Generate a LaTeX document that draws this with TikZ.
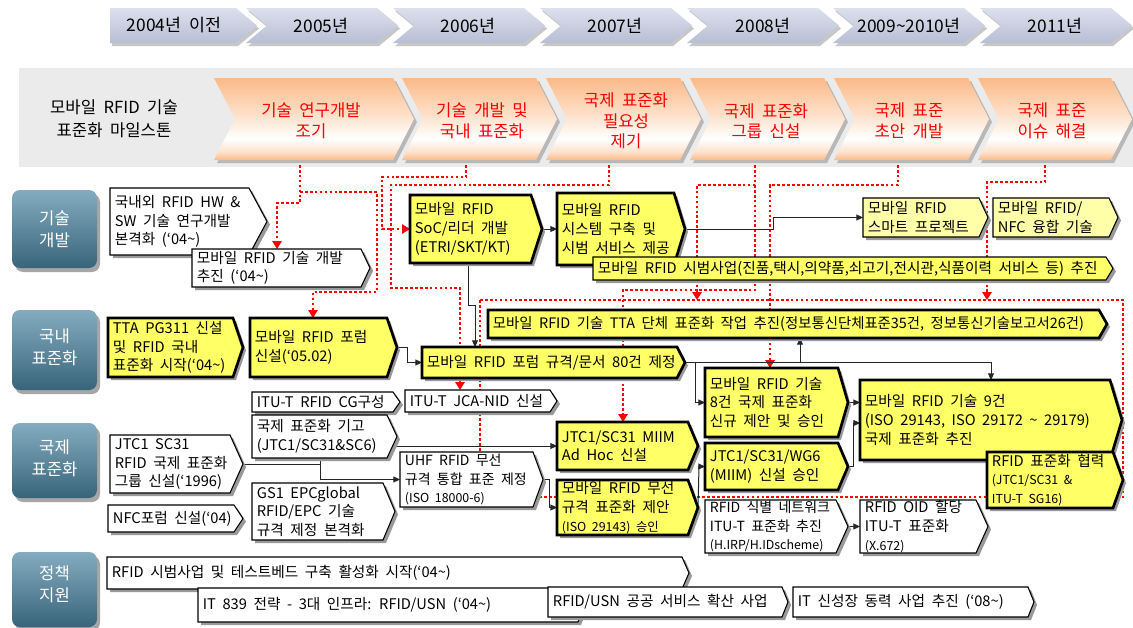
\documentclass[tikz,border=0pt]{standalone}
\usepackage{fontspec}
\setmainfont[WordSpace=2]{Noto Sans CJK KR}
\usetikzlibrary{arrows.meta,calc}
\definecolor{yel}{RGB}{255,255,102}
\definecolor{ypale}{RGB}{255,255,170}
\definecolor{peach}{RGB}{250,186,136}
\definecolor{peachl}{RGB}{253,226,204}
\definecolor{yrT}{RGB}{220,223,236}
\definecolor{yrB}{RGB}{184,190,212}
\definecolor{hdT}{RGB}{132,172,192}
\definecolor{hdB}{RGB}{56,100,122}
\definecolor{band}{RGB}{235,235,235}
\definecolor{otxt}{RGB}{255,0,0}
\pgfdeclareverticalshading{orsh}{100bp}{color(0bp)=(peach); color(25bp)=(peach); color(30bp)=(peachl); color(38bp)=(white); color(52bp)=(peachl); color(75bp)=(peach); color(100bp)=(peach)}
\pgfdeclarelayer{back}
\pgfdeclarelayer{lines}
\pgfsetlayers{back,lines,main}
\newcommand\fbx{\fontsize{11pt}{14pt}\selectfont}
\newcommand\fbxn{\fontsize{10.5pt}{14pt}\selectfont}
\newcommand\fbxb{\fontsize{10.8pt}{14pt}\selectfont}
\newcommand\fsml{\fontsize{9.3pt}{13pt}\selectfont}
\newcommand\fyear{\fontsize{13pt}{15pt}\selectfont}
\newcommand\forg{\fontsize{12.5pt}{15.5pt}\selectfont}
\newcommand\fmile{\fontsize{12.5pt}{17pt}\selectfont}
\newcommand\fhead{\fontsize{12.5pt}{16.5pt}\selectfont}
\newcommand\pentp[5]{({#1},{#2}) -- ({#3-#5},{#2}) -- ({#3},{(#2+#4)/2}) -- ({#3-#5},{#4}) -- ({#1},{#4}) -- cycle}
\newcommand\chevp[5]{({#1},{#2}) -- ({#3-#5},{#2}) -- ({#3},{(#2+#4)/2}) -- ({#3-#5},{#4}) -- ({#1},{#4}) -- ({#1+#5},{(#2+#4)/2}) -- cycle}
\tikzset{
 shad/.style={fill=black!40},
 wb/.style={fill=white,draw=black,line width=0.8pt},
 yb/.style={fill=yel,draw=black,line width=2pt},
 yt/.style={fill=yel,draw=black,line width=0.8pt},
 pb/.style={fill=ypale,draw=black,line width=0.8pt},
 reddot/.style={draw=red,line width=2pt,dash pattern=on 2pt off 1.7pt},
 rarr/.style={-{Triangle[length=6pt,width=7pt]}},
 blk/.style={draw=black!85,line width=0.75pt,-{Triangle[length=5pt,width=4.5pt]}},
}
\newcommand\bx[9]{%
 \node[inner sep=0pt,outer sep=0pt,minimum width={(#4-#2)*0.75pt},minimum height={(#5-#3)*0.75pt},anchor=north west] (#1) at ({#2},{#3}) {};
 \fill[shad,shift={(3,3)}] \pentp{#2}{#3}{#4}{#5}{#6};
 \path[#7] \pentp{#2}{#3}{#4}{#5}{#6};
 \node[anchor=west,align=left,inner sep=0pt,font=#8] (#1t) at ([xshift=3.5pt]#1.west) {#9};}
\newcommand\yc[5]{%
 \fill[black!22,shift={(2,3)}] \chevp{#2}{8}{#3}{43}{21};
 \shade[top color=yrT,bottom color=yrB] \chevp{#2}{8}{#3}{43}{21};
 \node[font=\fyear] (#1) at (#4,25.5) {#5};}
\newcommand\oc[5]{%
 \node[inner sep=0pt,outer sep=0pt,minimum width={(#3-#2)*0.75pt},minimum height={82*0.75pt},anchor=north west] (#1) at (#2,78) {};
 \fill[black!28,shift={(3,3)}] \chevp{#2}{78}{#3}{160}{21};
 \shade[shading=orsh] \chevp{#2}{78}{#3}{160}{21};
 \node[font=\forg,text=otxt,align=center] (#1t) at (#4,121) {#5};}
\newcommand\hd[5]{%
 \fill[black!35,rounded corners=6pt] (15,{#2+4}) rectangle (100,{#3+4});
 \shade[top color=hdT,bottom color=hdB,rounded corners=6pt] (12,{#2}) rectangle (97,{#3});
 \node[text=white,font=\fhead,align=center] (#1) at (54.5,{#4}) {#5};}
\begin{document}
\begin{tikzpicture}[x=0.75pt,y=-0.75pt]
\useasboundingbox (0,0) rectangle (1133,628);
\begin{pgfonlayer}{back}
\fill[white] (0,0) rectangle (1133,628);
\fill[band] (19,68) rectangle (1133,167);
\end{pgfonlayer}
% year bar
\fill[black!22,shift={(2,3)}] \pentp{110}{8}{257}{43}{21};
\shade[top color=yrT,bottom color=yrB] \pentp{110}{8}{257}{43}{21};
\node[font=\fyear] (y1) at (174,25.5) {2004년 이전};
\yc{y2}{246}{398}{321}{2005년}
\yc{y3}{393}{545}{468}{2006년}
\yc{y4}{540}{692}{615}{2007년}
\yc{y5}{687}{839}{763}{2008년}
\yc{y6}{833}{985}{909}{2009\textasciitilde 2010년}
\yc{y7}{980}{1132}{1055}{2011년}
% milestones
\node[font=\fmile,align=center] (ms) at (114,119) {모바일 RFID 기술\\표준화 마일스톤};
\oc{o1}{214}{414}{311}{기술 연구개발\\조기}
\oc{o2}{402}{557}{482}{기술 개발 및\\국내 표준화}
\oc{o3}{546}{701}{626}{국제 표준화\\필요성\\제기}
\oc{o4}{690}{845}{766}{국제 표준화\\그룹 신설}
\oc{o5}{834}{989}{909}{국제 표준\\초안 개발}
\oc{o6}{978}{1132}{1052}{국제 표준\\이슈 해결}
% row headers
\hd{h1}{190}{268}{229}{기술\\개발}
\hd{h2}{310}{390}{347}{국내\\표준화}
\hd{h3}{423}{498}{458}{국제\\표준화}
\hd{h4}{552}{627}{584}{정책\\지원}
% boxes
\bx{a1}{110}{188}{267}{255}{18}{wb}{\fbx}{국내외 RFID HW \&\\SW 기술 연구개발\\본격화 (`04\textasciitilde)}
\bx{a2}{192}{249}{370}{287}{9}{wb}{\fbx}{모바일 RFID 기술 개발\\추진 (`04\textasciitilde)}
\bx{a3}{410}{195}{542}{263}{11}{yb}{\fbx}{모바일 RFID\\SoC/리더 개발\\(ETRI/SKT/KT)}
\bx{a4}{557}{193}{685}{265}{11}{yb}{\fbx}{모바일 RFID\\시스템 구축 및\\시범 서비스 제공}
\bx{a5}{593}{257}{1113}{280}{7}{yt}{\fbx}{모바일 RFID 시범사업(진품,택시,의약품,쇠고기,전시관,식품이력 서비스 등) 추진}
\bx{a6}{863}{198}{988}{237}{9}{pb}{\fbx}{모바일 RFID\\스마트 프로젝트}
\bx{a7}{993}{198}{1118}{237}{9}{pb}{\fbx}{모바일 RFID/\\NFC 융합 기술}
\bx{b1}{108}{318}{243}{377}{10}{yb}{\fbx}{TTA PG311 신설\\및 RFID 국내\\표준화 시작(`04\textasciitilde)}
\bx{b2}{250}{318}{397}{377}{10}{yb}{\fbx}{모바일 RFID 포럼\\신설(`05.02)}
\bx{b3}{488}{310}{1107}{338}{8}{yb}{\fbxb}{모바일 RFID 기술 TTA 단체 표준화 작업 추진(정보통신단체표준35건, 정보통신기술보고서26건)}
\bx{b4}{422}{347}{685}{378}{8}{yb}{\fbx}{모바일 RFID 포럼 규격/문서 80건 제정}
\bx{cg}{252}{392}{400}{412}{7}{wb}{\fbx}{ITU-T RFID CG구성}
\bx{jca}{405}{390}{557}{412}{7}{wb}{\fbx}{ITU-T JCA-NID 신설}
\bx{c1}{252}{415}{397}{458}{10}{wb}{\fbx}{국제 표준화 기고\\(JTC1/SC31\&SC6)}
\bx{c2}{110}{435}{243}{493}{13}{wb}{\fbx}{JTC1 SC31\\RFID 국제 표준화\\그룹 신설(`1996)}
\bx{c3}{108}{505}{243}{532}{9}{wb}{\fbx}{NFC포럼 신설(`04)}
\bx{c4}{252}{483}{395}{540}{12}{wb}{\fbx}{GS1 EPCglobal\\RFID/EPC 기술\\규격 제정 본격화}
\bx{c5}{400}{452}{543}{507}{10}{wb}{\fbxn}{UHF RFID 무선\\규격 통합 표준 제정\\{\fsml (ISO 18000-6)}}
\bx{c6}{557}{422}{698}{470}{10}{yb}{\fbx}{JTC1/SC31 MIIM\\Ad Hoc 신설}
\bx{c7}{557}{480}{698}{535}{10}{yb}{\fbx}{모바일 RFID 무선\\규격 표준화 제안\\{\fsml (ISO 29143) 승인}}
\bx{c8}{705}{368}{848}{437}{10}{yb}{\fbx}{모바일 RFID 기술\\8건 국제 표준화\\신규 제안 및 승인}
\bx{c9}{705}{443}{848}{490}{10}{yb}{\fbx}{JTC1/SC31/WG6\\(MIIM) 신설 승인}
\bx{c10}{860}{380}{1122}{460}{12}{yb}{\fbx}{모바일 RFID 기술 9건\\(ISO 29143, ISO 29172 \textasciitilde{} 29179)\\국제 표준화 추진}
\bx{c11}{987}{452}{1123}{508}{10}{yb}{\fbx}{RFID 표준화 협력\\{\fsml (JTC1/SC31 \&}\\{\fsml ITU-T SG16)}}
\bx{c12}{705}{500}{848}{553}{12}{wb}{\fbxn}{RFID 식별 네트워크\\ITU-T 표준화 추진\\{\fsml (H.IRP/H.IDscheme)}}
\bx{c13}{860}{500}{988}{553}{12}{wb}{\fbx}{RFID OID 할당\\ITU-T 표준화\\{\fsml (X.672)}}
\bx{d1}{107}{557}{689}{589}{7}{wb}{\fbx}{RFID 시범사업 및 테스트베드 구축 활성화 시작(`04\textasciitilde)}
\bx{d2}{198}{588}{585}{622}{7}{wb}{\fbx}{IT 839 전략 - 3대 인프라: RFID/USN (`04\textasciitilde)}
\bx{d3}{548}{587}{788}{617}{6}{wb}{\fbx}{RFID/USN 공공 서비스 확산 사업}
\bx{d4}{793}{587}{1034}{617}{6}{wb}{\fbx}{IT 신성장 동력 사업 추진 (`08\textasciitilde)}
\node[inner sep=0pt,outer sep=0pt,minimum width={643*0.75pt},minimum height={197*0.75pt},anchor=north west] (grp) at (480,300) {};
% connectors
\begin{pgfonlayer}{lines}
\draw[reddot] (grp.north west) rectangle (grp.south east);
\coordinate (r1a) at (300,203); \coordinate (r1b) at (277,203);
\draw[reddot,rarr] (o1.south -| r1a) -- (r1a) -- (r1b) -- (a2.north -| r1b);
\coordinate (r1c) at (300,192); \coordinate (r1d) at (377,192); \coordinate (r1e) at (377,292); \coordinate (r1f) at (313,292);
\draw[reddot,rarr] (r1c) -- (r1d) -- (r1e) -- (r1f) -- (b2.north -| r1f);
\coordinate (r2a) at (466,177); \coordinate (r2b) at (382,177);
\draw[reddot,rarr] (o2.south -| r2a) -- (r2a) -- (r2b) -- (r2b |- a3.west) -- (a3.west);
\coordinate (r3a) at (609,185); \coordinate (r3b) at (391,185); \coordinate (r3c) at (391,288); \coordinate (r3d) at (460,288);
\draw[reddot,rarr] (o3.south -| r3a) -- (r3a) -- (r3b) -- (r3c) -- (r3d) -- (jca.north -| r3d);
\coordinate (r4a) at (755,185); \coordinate (r4b) at (697,185); \coordinate (r4c) at (755,290); \coordinate (r4d) at (623,290);
\draw[reddot,rarr] (o4.south -| r4a) -- (r4a) -- (r4b) -- (grp.north -| r4b);
\draw[reddot,rarr] (r4a) -- (r4c) -- (r4d) -- (c6.north -| r4d);
\coordinate (r5a) at (898,185); \coordinate (r5b) at (770,185);
\draw[reddot,rarr] (o5.south -| r5a) -- (r5a) -- (r5b) -- (c8.north -| r5b);
\coordinate (r6a) at (1045,182); \coordinate (r6b) at (987,182);
\draw[reddot,rarr] (o6.south -| r6a) -- (r6a) -- (r6b) -- (grp.north -| r6b);
% black connectors
\draw[blk] (a3.east) -- (a4.west);
\coordinate (k2) at (773,0);
\draw[blk] (a4.east) -- (a4.east -| k2) -- (k2 |- a6.west) -- (a6.west);
\coordinate (k3a) at (468,305); \coordinate (k3b) at (475,305);
\draw[blk] (a3.south -| k3a) -- (k3a) -- (k3b) -- (b4.north -| k3b);
\coordinate (k4) at (407,0);
\draw[blk] (b2.east) -- (b2.east -| k4) -- (k4 |- b4.west) -- (b4.west);
\coordinate (k5) at (800,0);
\draw[blk] (b4.east) -- (b4.east -| k5) -- (b3.south -| k5);
\draw[blk] (b4.east) -| (c10.north);
\coordinate (k7) at (695,0);
\draw[blk] (b4.east) -- (b4.east -| k7) -- (k7 |- c8.west) -- (c8.west);
\coordinate (k8) at (320,0);
\draw[blk] (c2.east) -- (c2.east -| k8) -- (k8 |- c5.west) -- (c5.west);
\draw[blk] (c2.east -| k8) -- (k8 |- c6.west) -- (c6.west);
\coordinate (k10) at (549,0);
\draw[blk] (c5.east) -- (c5.east -| k10) -- (k10 |- c7.west) -- (c7.west);
\draw[blk] (c7.east) -- ([xshift=-4.5pt]c9.west) -- (c9.west);
\draw[blk] (c8.east) -- (c8.east -| c10.west);
\coordinate (k13) at (853,423);
\draw[blk] (c9.east) -| (k13) -- (k13 -| c10.west);
\draw[blk] (c12.east) -- (c12.east -| c13.west);
\end{pgfonlayer}
\end{tikzpicture}
\end{document}
